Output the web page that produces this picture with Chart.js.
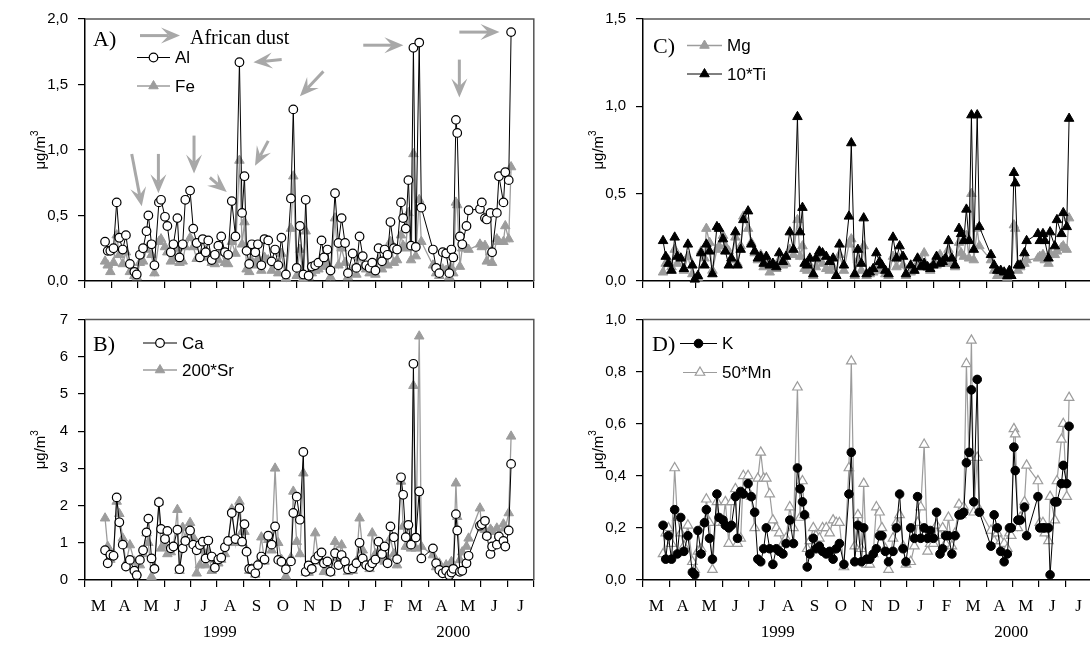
<!DOCTYPE html>
<html>
<head>
<meta charset="utf-8">
<script src="https://cdn.jsdelivr.net/npm/chart.js@4.4.1/dist/chart.umd.min.js"></script>
<style>
  html, body { margin: 0; padding: 0; background: #fff; overflow: hidden; width: 1090px; height: 650px; }
  canvas { position: absolute; }
</style>
</head>
<body>
<canvas id="chartA" width="545" height="300" style="left:0px;top:0px"></canvas>
<canvas id="chartB" width="545" height="350" style="left:0px;top:300px"></canvas>
<canvas id="chartC" width="545" height="300" style="left:558px;top:0px"></canvas>
<canvas id="chartD" width="545" height="350" style="left:558px;top:300px"></canvas>
<script>
// month axis: 0 = start of March 1999, one unit per month
const MONTHS = ['M', 'A', 'M', 'J', 'J', 'A', 'S', 'O', 'N', 'D', 'J', 'F', 'M', 'A', 'M', 'J', 'J'];
const YEARS = [{ label: '1999', at: 5.1 }, { label: '2000', at: 13.95 }];

// sampling dates (month units)
const DATES = [
  0.76, 0.86, 0.96, 1.08, 1.20, 1.30, 1.43, 1.55, 1.70, 1.87,
  1.96, 2.08, 2.20, 2.33, 2.40, 2.52, 2.63, 2.80, 2.88, 3.03,
  3.12, 3.25, 3.35, 3.50, 3.58, 3.70, 3.80, 3.98, 4.10, 4.23,
  4.35, 4.46, 4.57, 4.67, 4.80, 4.92, 5.05, 5.16, 5.30, 5.42,
  5.56, 5.70, 5.85, 5.95, 6.04, 6.12, 6.22, 6.32, 6.45, 6.55,
  6.68, 6.80, 6.94, 7.07, 7.20, 7.32, 7.44, 7.61, 7.80, 7.89,
  8.02, 8.14, 8.27, 8.36, 8.47, 8.59, 8.72, 8.84, 8.96, 9.05,
  9.18, 9.30, 9.47, 9.60, 9.72, 9.85, 9.96, 10.14, 10.28, 10.40,
  10.52, 10.65, 10.78, 10.88, 11.00, 11.12, 11.25, 11.35, 11.46, 11.57,
  11.70, 11.82, 11.97, 12.05, 12.15, 12.25, 12.35, 12.44, 12.53, 12.66,
  12.74, 13.18, 13.30, 13.42, 13.55, 13.68, 13.80, 13.88, 13.95, 14.05,
  14.10, 14.20, 14.29, 14.45, 14.53, 14.96, 15.03, 15.15, 15.22, 15.36,
  15.42, 15.60, 15.68, 15.85, 15.92, 16.05, 16.14,
];

const AL = [
  0.30, 0.23, 0.23, 0.25, 0.60, 0.33, 0.24, 0.35, 0.13, 0.07,
  0.05, 0.20, 0.25, 0.38, 0.50, 0.28, 0.12, 0.60, 0.62, 0.49,
  0.42, 0.22, 0.28, 0.48, 0.18, 0.28, 0.62, 0.69, 0.40, 0.29,
  0.18, 0.32, 0.22, 0.31, 0.16, 0.20, 0.27, 0.34, 0.22, 0.20,
  0.61, 0.34, 1.67, 0.52, 0.80, 0.23, 0.13, 0.28, 0.22, 0.28,
  0.12, 0.32, 0.31, 0.15, 0.24, 0.12, 0.33, 0.05, 0.63, 1.31,
  0.10, 0.42, 0.05, 0.62, 0.04, 0.11, 0.12, 0.14, 0.31, 0.18,
  0.24, 0.08, 0.67, 0.29, 0.48, 0.29, 0.06, 0.21, 0.10, 0.34,
  0.19, 0.12, 0.10, 0.14, 0.08, 0.25, 0.15, 0.24, 0.20, 0.45,
  0.25, 0.24, 0.60, 0.48, 0.40, 0.77, 0.27, 1.78, 0.26, 1.82,
  0.56, 0.24, 0.10, 0.06, 0.22, 0.21, 0.06, 0.24, 0.18, 1.23,
  1.13, 0.34, 0.28, 0.42, 0.54, 0.55, 0.60, 0.48, 0.47, 0.52,
  0.22, 0.52, 0.80, 0.60, 0.83, 0.77, 1.90,
];
const FE = [
  0.15, 0.12, 0.07, 0.14, 0.35, 0.20, 0.13, 0.22, 0.07, 0.04,
  0.03, 0.14, 0.15, 0.24, 0.27, 0.20, 0.06, 0.30, 0.32, 0.26,
  0.22, 0.15, 0.17, 0.25, 0.14, 0.15, 0.26, 0.33, 0.26, 0.17,
  0.19, 0.18, 0.23, 0.19, 0.14, 0.13, 0.16, 0.22, 0.14, 0.13,
  0.30, 0.21, 0.92, 0.28, 0.45, 0.09, 0.07, 0.15, 0.12, 0.17,
  0.08, 0.18, 0.16, 0.08, 0.12, 0.06, 0.21, 0.02, 0.40, 0.80,
  0.04, 0.24, 0.02, 0.38, 0.03, 0.06, 0.08, 0.09, 0.14, 0.11,
  0.13, 0.03, 0.48, 0.12, 0.25, 0.14, 0.03, 0.09, 0.05, 0.18,
  0.11, 0.09, 0.06, 0.10, 0.05, 0.16, 0.09, 0.14, 0.12, 0.30,
  0.14, 0.16, 0.35, 0.27, 0.25, 0.52, 0.16, 0.97, 0.19, 0.62,
  0.30, 0.12, 0.06, 0.04, 0.09, 0.08, 0.03, 0.10, 0.06, 0.60,
  0.58, 0.11, 0.25, 0.25, 0.24, 0.28, 0.26, 0.27, 0.15, 0.22,
  0.14, 0.32, 0.30, 0.30, 0.42, 0.32, 0.87,
];
const CA = [
  0.80, 0.45, 0.68, 0.65, 2.22, 1.55, 0.95, 0.36, 0.54, 0.25,
  0.13, 0.54, 0.80, 1.28, 1.65, 0.58, 0.30, 2.09, 1.37, 1.10,
  1.32, 0.85, 0.90, 1.35, 0.29, 0.85, 1.05, 1.33, 0.95, 0.80,
  0.94, 1.03, 0.58, 1.06, 0.63, 0.33, 0.55, 0.60, 0.88, 1.05,
  1.80, 1.10, 1.93, 1.03, 1.50, 0.76, 0.30, 0.29, 0.18, 0.40,
  0.63, 0.55, 1.19, 0.95, 1.44, 0.54, 0.49, 0.29, 0.50, 1.80,
  2.24, 1.62, 3.44, 0.22, 0.39, 0.30, 0.55, 0.65, 0.74, 0.45,
  0.50, 0.22, 0.72, 0.40, 0.67, 0.50, 0.29, 0.31, 0.45, 1.00,
  0.58, 0.40, 0.35, 0.45, 0.55, 1.03, 0.70, 0.90, 0.45, 1.44,
  1.15, 0.56, 2.76, 2.29, 1.15, 1.48, 0.95, 5.81, 1.14, 2.38,
  0.58, 0.85, 0.45, 0.27, 0.18, 0.25, 0.13, 0.20, 0.30, 1.77,
  1.33, 0.22, 0.25, 0.45, 0.65, 1.46, 1.50, 1.59, 1.18, 0.70,
  0.90, 0.95, 1.17, 1.05, 0.90, 1.33, 3.12,
];
const SR200 = [
  1.66, 0.90, 0.55, 0.70, 2.11, 1.78, 1.12, 0.45, 0.94, 0.50,
  0.20, 0.40, 0.70, 1.26, 1.00, 0.09, 0.35, 2.09, 0.85, 0.94,
  0.70, 0.75, 0.90, 1.89, 0.25, 1.41, 1.10, 1.54, 1.15, 0.18,
  0.40, 0.80, 0.40, 0.75, 0.25, 0.55, 0.45, 0.55, 0.70, 1.00,
  1.90, 1.00, 2.11, 1.30, 1.30, 0.80, 0.25, 0.30, 0.15, 0.45,
  1.15, 0.50, 1.08, 0.80, 3.00, 1.00, 0.55, 0.10, 0.60, 2.38,
  1.03, 0.70, 2.87, 0.20, 0.20, 0.30, 1.26, 0.60, 0.50, 0.22,
  0.35, 0.20, 1.03, 0.60, 0.94, 0.40, 0.22, 0.25, 0.50, 1.66,
  0.80, 0.45, 0.30, 1.26, 0.70, 0.72, 0.55, 0.50, 0.60, 1.12,
  0.70, 0.40, 2.65, 1.44, 0.90, 0.90, 0.85, 5.22, 0.85, 6.55,
  0.90, 0.67, 0.35, 0.45, 0.20, 0.40, 0.30, 0.49, 0.35, 2.60,
  1.70, 0.54, 0.75, 0.90, 1.12, 1.93, 1.39, 1.35, 1.20, 1.36,
  1.30, 1.39, 1.20, 1.50, 1.39, 1.80, 3.86,
];
const MG = [
  0.05, 0.10, 0.12, 0.08, 0.18, 0.10, 0.13, 0.06, 0.14, 0.04,
  0.01, 0.02, 0.17, 0.13, 0.30, 0.22, 0.06, 0.18, 0.20, 0.26,
  0.20, 0.17, 0.12, 0.25, 0.10, 0.20, 0.37, 0.30, 0.22, 0.16,
  0.12, 0.15, 0.08, 0.12, 0.05, 0.10, 0.07, 0.12, 0.09, 0.10,
  0.18, 0.15, 0.35, 0.14, 0.20, 0.07, 0.06, 0.09, 0.03, 0.08,
  0.12, 0.10, 0.07, 0.06, 0.08, 0.03, 0.15, 0.06, 0.21, 0.24,
  0.03, 0.12, 0.06, 0.20, 0.03, 0.04, 0.05, 0.08, 0.06, 0.07,
  0.04, 0.03, 0.14, 0.08, 0.13, 0.09, 0.03, 0.05, 0.06, 0.10,
  0.12, 0.16, 0.08, 0.06, 0.10, 0.09, 0.15, 0.12, 0.10, 0.18,
  0.10, 0.08, 0.22, 0.16, 0.14, 0.26, 0.13, 0.50, 0.12, 0.30,
  0.20, 0.12, 0.06, 0.03, 0.04, 0.03, 0.02, 0.04, 0.03, 0.32,
  0.30, 0.06, 0.08, 0.10, 0.12, 0.13, 0.14, 0.15, 0.12, 0.10,
  0.16, 0.15, 0.17, 0.19, 0.20, 0.18, 0.36,
];
const TI10 = [
  0.23, 0.14, 0.10, 0.06, 0.25, 0.14, 0.13, 0.07, 0.21, 0.09,
  0.01, 0.03, 0.16, 0.09, 0.21, 0.17, 0.04, 0.31, 0.30, 0.24,
  0.17, 0.09, 0.13, 0.28, 0.09, 0.18, 0.35, 0.40, 0.21, 0.17,
  0.13, 0.14, 0.10, 0.14, 0.09, 0.10, 0.08, 0.16, 0.11, 0.14,
  0.28, 0.18, 0.94, 0.28, 0.42, 0.10, 0.09, 0.13, 0.04, 0.13,
  0.17, 0.16, 0.14, 0.11, 0.13, 0.03, 0.21, 0.09, 0.37, 0.79,
  0.04, 0.18, 0.10, 0.36, 0.04, 0.05, 0.07, 0.16, 0.11, 0.09,
  0.06, 0.04, 0.25, 0.13, 0.20, 0.14, 0.04, 0.09, 0.06, 0.13,
  0.08, 0.10, 0.08, 0.07, 0.09, 0.14, 0.10, 0.11, 0.13, 0.23,
  0.13, 0.09, 0.30, 0.27, 0.23, 0.41, 0.23, 0.95, 0.18, 0.95,
  0.31, 0.15, 0.09, 0.06, 0.06, 0.05, 0.03, 0.06, 0.03, 0.62,
  0.56, 0.09, 0.09, 0.16, 0.23, 0.27, 0.23, 0.27, 0.23, 0.13,
  0.28, 0.20, 0.35, 0.27, 0.39, 0.31, 0.93,
];
const K = [
  0.21, 0.08, 0.17, 0.08, 0.27, 0.10, 0.24, 0.11, 0.17, 0.03,
  0.02, 0.19, 0.10, 0.22, 0.27, 0.16, 0.08, 0.33, 0.24, 0.23,
  0.21, 0.20, 0.21, 0.32, 0.16, 0.34, 0.33, 0.37, 0.32, 0.26,
  0.08, 0.07, 0.12, 0.20, 0.12, 0.06, 0.12, 0.11, 0.10, 0.14,
  0.23, 0.14, 0.43, 0.35, 0.30, 0.25, 0.05, 0.10, 0.16, 0.12,
  0.13, 0.11, 0.10, 0.11, 0.08, 0.12, 0.14, 0.06, 0.33, 0.49,
  0.07, 0.21, 0.07, 0.20, 0.08, 0.08, 0.10, 0.12, 0.17, 0.17,
  0.11, 0.07, 0.11, 0.20, 0.33, 0.12, 0.07, 0.20, 0.16, 0.32,
  0.16, 0.20, 0.16, 0.19, 0.16, 0.26, 0.10, 0.12, 0.17, 0.17,
  0.10, 0.17, 0.25, 0.25, 0.26, 0.45, 0.49, 0.73, 0.30, 0.77,
  0.26, 0.13, 0.25, 0.20, 0.11, 0.07, 0.10, 0.20, 0.20, 0.51,
  0.42, 0.23, 0.23, 0.28, 0.17, 0.32, 0.20, 0.20, 0.20, 0.20,
  0.02, 0.30, 0.30, 0.37, 0.44, 0.37, 0.59,
];
const MN50 = [
  0.10, 0.18, 0.20, 0.14, 0.43, 0.24, 0.18, 0.13, 0.21, 0.07,
  0.04, 0.11, 0.12, 0.22, 0.31, 0.22, 0.04, 0.30, 0.22, 0.22,
  0.30, 0.14, 0.30, 0.35, 0.14, 0.16, 0.40, 0.40, 0.32, 0.20,
  0.39, 0.49, 0.39, 0.39, 0.33, 0.23, 0.20, 0.18, 0.14, 0.16,
  0.28, 0.20, 0.74, 0.24, 0.38, 0.25, 0.12, 0.15, 0.20, 0.17,
  0.16, 0.20, 0.20, 0.18, 0.23, 0.22, 0.22, 0.05, 0.43, 0.84,
  0.13, 0.25, 0.12, 0.37, 0.06, 0.06, 0.10, 0.28, 0.26, 0.20,
  0.12, 0.04, 0.16, 0.22, 0.25, 0.13, 0.06, 0.07, 0.13, 0.22,
  0.28, 0.52, 0.11, 0.14, 0.14, 0.21, 0.17, 0.20, 0.14, 0.24,
  0.13, 0.18, 0.29, 0.25, 0.28, 0.83, 0.47, 0.92, 0.26, 0.47,
  0.27, 0.19, 0.15, 0.18, 0.15, 0.14, 0.12, 0.18, 0.17, 0.58,
  0.56, 0.20, 0.24, 0.30, 0.44, 0.38, 0.22, 0.22, 0.18, 0.15,
  0.32, 0.23, 0.38, 0.54, 0.60, 0.32, 0.70,
];

// "African dust" arrows in panel A: [fromMonth, fromValue, toMonth, toValue]
const DUST_ARROWS = [
  [1.77, 0.97, 2.15, 0.57],
  [2.78, 0.97, 2.78, 0.67],
  [4.13, 1.11, 4.13, 0.82],
  [4.73, 0.79, 5.37, 0.68],
  [7.45, 1.69, 6.38, 1.67],
  [6.94, 1.07, 6.44, 0.88],
  [9.03, 1.60, 8.14, 1.41],
  [10.54, 1.80, 12.06, 1.80],
  [14.18, 1.69, 14.18, 1.40],
  [14.18, 1.90, 15.70, 1.90],
];

const GRAY = '#9c9c9c';
const ARROW_GRAY = '#a8a8a8';
const SANS = "'Liberation Sans', Arial, sans-serif";
const SERIF = "'Liberation Serif', 'Times New Roman', serif";

const pts = (vals) => vals.map((v, i) => ({ x: DATES[i], y: v }));

// ── dataset looks ──────────────────────────────
const openCircle = { pointStyle: 'circle', pointRadius: 4.3, pointBackgroundColor: '#fff', pointBorderColor: '#000', pointBorderWidth: 1.2, borderColor: '#000', borderWidth: 1 };
const blackDot = { pointStyle: 'circle', pointRadius: 4.3, pointBackgroundColor: '#000', pointBorderColor: '#000', pointBorderWidth: 1, borderColor: '#000', borderWidth: 1 };
const grayTri = { pointStyle: 'triangle', pointRadius: 5.5, pointBackgroundColor: GRAY, pointBorderColor: GRAY, pointBorderWidth: 1, borderColor: GRAY, borderWidth: 1.3 };
const blackTri = { pointStyle: 'triangle', pointRadius: 5.5, pointBackgroundColor: '#000', pointBorderColor: '#000', pointBorderWidth: 1, borderColor: '#000', borderWidth: 1 };
const openTri = { pointStyle: 'triangle', pointRadius: 5.5, pointBackgroundColor: '#fff', pointBorderColor: GRAY, pointBorderWidth: 1.2, borderColor: GRAY, borderWidth: 1.2 };

const series = (label, vals, look) => Object.assign({ label, data: pts(vals), clip: false, tension: 0 }, look);

function marker(ctx, ds, x, y) {
  const r = ds.pointRadius;
  ctx.fillStyle = ds.pointBackgroundColor;
  ctx.strokeStyle = ds.pointBorderColor;
  ctx.lineWidth = ds.pointBorderWidth;
  ctx.beginPath();
  if (ds.pointStyle === 'circle') {
    ctx.arc(x, y, r, 0, Math.PI * 2);
  } else {
    ctx.moveTo(x, y - r);
    ctx.lineTo(x + 0.866 * r, y + 0.5 * r);
    ctx.lineTo(x - 0.866 * r, y + 0.5 * r);
    ctx.closePath();
  }
  ctx.fill();
  ctx.stroke();
}

function arrow(ctx, x0, y0, x1, y1) {
  const ang = Math.atan2(y1 - y0, x1 - x0);
  const ux = Math.cos(ang), uy = Math.sin(ang);
  const L = 19, W = 8;
  ctx.strokeStyle = ARROW_GRAY;
  ctx.fillStyle = ARROW_GRAY;
  ctx.lineWidth = 3;
  ctx.beginPath();
  ctx.moveTo(x0, y0);
  ctx.lineTo(x1 - ux * L * 0.6, y1 - uy * L * 0.6);
  ctx.stroke();
  ctx.beginPath();
  ctx.moveTo(x1, y1);
  ctx.lineTo(x1 - ux * L - uy * W, y1 - uy * L + ux * W);
  ctx.lineTo(x1 - ux * L * 0.6, y1 - uy * L * 0.6);
  ctx.lineTo(x1 - ux * L + uy * W, y1 - uy * L - ux * W);
  ctx.closePath();
  ctx.fill();
}

// ── frame, panel tags, legends, unit, years, arrows ──────────────
const decor = {
  id: 'decor',
  afterDraw(chart, args, o) {
    const { ctx, chartArea: a, scales } = chart;
    ctx.save();

    ctx.strokeStyle = '#555';
    ctx.lineWidth = 1.5;
    ctx.beginPath();
    ctx.moveTo(a.left, a.top);
    ctx.lineTo(a.right, a.top);
    ctx.lineTo(a.right, a.bottom);
    ctx.stroke();

    if (o.arrows) {
      o.arrows.forEach(([t0, v0, t1, v1]) => {
        arrow(ctx, scales.x.getPixelForValue(t0), scales.y.getPixelForValue(v0),
          scales.x.getPixelForValue(t1), scales.y.getPixelForValue(v1));
      });
    }
    if (o.dustKey) {
      const k = o.dustKey;
      arrow(ctx, a.left + k.x0, a.top + k.y, a.left + k.x1, a.top + k.y);
      ctx.fillStyle = '#000';
      ctx.font = `20px ${SERIF}`;
      ctx.textAlign = 'left';
      ctx.textBaseline = 'middle';
      ctx.fillText('African dust', a.left + k.tx, a.top + k.ty);
    }

    ctx.fillStyle = '#000';
    ctx.font = `22px ${SERIF}`;
    ctx.textAlign = 'left';
    ctx.textBaseline = 'middle';
    ctx.fillText(o.tag, a.left + o.tagX, a.top + o.tagY);

    o.legend.forEach((it) => {
      const ds = chart.data.datasets[it.ds];
      const y = a.top + it.y;
      ctx.strokeStyle = ds.borderColor;
      ctx.lineWidth = ds.borderWidth;
      ctx.beginPath();
      ctx.moveTo(a.left + it.x0, y);
      ctx.lineTo(a.left + it.x1, y);
      ctx.stroke();
      marker(ctx, ds, a.left + (it.x0 + it.x1) / 2, y);
      ctx.fillStyle = '#000';
      ctx.font = `17px ${SANS}`;
      ctx.textAlign = 'left';
      ctx.textBaseline = 'middle';
      ctx.fillText(ds.label, a.left + it.x1 + 5, y + 1);
    });

    // y unit: µg/m³, rotated
    const cy = (a.top + a.bottom) / 2;
    ctx.translate(a.left - 45, cy);
    ctx.rotate(-Math.PI / 2);
    ctx.font = `15px ${SANS}`;
    const w1 = ctx.measureText('μg/m').width;
    ctx.font = `10px ${SANS}`;
    const w2 = ctx.measureText('3').width;
    ctx.textAlign = 'left';
    ctx.textBaseline = 'alphabetic';
    ctx.font = `15px ${SANS}`;
    ctx.fillText('μg/m', -(w1 + w2) / 2, 5);
    ctx.font = `10px ${SANS}`;
    ctx.fillText('3', -(w1 + w2) / 2 + w1, -2);
    ctx.setTransform(1, 0, 0, 1, 0, 0);

    if (o.years) {
      ctx.fillStyle = '#000';
      ctx.font = `17px ${SERIF}`;
      ctx.textAlign = 'center';
      ctx.textBaseline = 'middle';
      YEARS.forEach((yr) => ctx.fillText(yr.label, scales.x.getPixelForValue(yr.at), a.bottom + 53));
    }
    ctx.restore();
  },
};

function makePanel(id, cfg) {
  new Chart(document.getElementById(id), {
    type: 'line',
    data: { datasets: cfg.datasets },
    options: {
      responsive: false,
      animation: false,
      events: [],
      layout: { padding: { top: cfg.top, right: 11.2, bottom: 0, left: 0 } },
      plugins: { legend: { display: false }, tooltip: { enabled: false }, decor: cfg.decor },
      scales: {
        x: {
          type: 'linear',
          min: 0,
          max: 17,
          afterFit: (s) => { s.height = cfg.xHeight; },
          border: { color: '#000', width: 1.5 },
          grid: {
            drawOnChartArea: false,
            tickLength: 7,
            lineWidth: 1.2,
            color: (c) => (c.tick && Math.abs(c.tick.value % 1) < 1e-6 ? '#000' : 'rgba(0,0,0,0)'),
          },
          ticks: {
            display: cfg.months,
            stepSize: 0.5,
            autoSkip: false,
            maxRotation: 0,
            padding: 9,
            color: '#000',
            font: { family: SERIF, size: 17 },
            callback: (v) => {
              const i = Math.round(v * 2);
              return i % 2 === 1 ? MONTHS[(i - 1) / 2] : '';
            },
          },
        },
        y: {
          min: 0,
          max: cfg.yMax,
          afterFit: (s) => { s.width = 85; },
          border: { color: '#000', width: 1.5 },
          grid: { drawOnChartArea: false, tickLength: 7, lineWidth: 1.2, color: '#000' },
          ticks: {
            stepSize: cfg.yStep,
            padding: 10,
            color: '#000',
            font: { family: SANS, size: 15 },
            callback: cfg.yFmt,
          },
        },
      },
    },
    plugins: [decor],
  });
}

const comma1 = (v) => v.toFixed(1).replace('.', ',');

makePanel('chartA', {
  top: 16.7, xHeight: 18.3, months: false, yMax: 2, yStep: 0.5, yFmt: comma1,
  datasets: [series('Al', AL, openCircle), series('Fe', FE, grayTri)],
  decor: {
    tag: 'A)', tagX: 8, tagY: 21,
    dustKey: { x0: 55, x1: 95, y: 16.6, tx: 105, ty: 20 },
    arrows: DUST_ARROWS,
    legend: [{ ds: 0, x0: 52, x1: 85, y: 38.5 }, { ds: 1, x0: 52, x1: 85, y: 67 }],
  },
});

makePanel('chartB', {
  top: 19.5, xHeight: 70, months: true, yMax: 7, yStep: 1, yFmt: (v) => String(v),
  datasets: [series('Ca', CA, openCircle), series('200*Sr', SR200, grayTri)],
  decor: {
    tag: 'B)', tagX: 8, tagY: 26, years: true,
    legend: [{ ds: 0, x0: 58, x1: 92, y: 23.5 }, { ds: 1, x0: 58, x1: 92, y: 50.5 }],
  },
});

makePanel('chartC', {
  top: 16.7, xHeight: 18.3, months: false, yMax: 1.5, yStep: 0.5, yFmt: comma1,
  datasets: [series('10*Ti', TI10, blackTri), series('Mg', MG, grayTri)],
  decor: {
    tag: 'C)', tagX: 10, tagY: 28,
    legend: [{ ds: 1, x0: 44, x1: 79, y: 26.5 }, { ds: 0, x0: 44, x1: 79, y: 55 }],
  },
});

makePanel('chartD', {
  top: 19.5, xHeight: 70, months: true, yMax: 1, yStep: 0.2, yFmt: comma1,
  datasets: [series('K', K, blackDot), series('50*Mn', MN50, openTri)],
  decor: {
    tag: 'D)', tagX: 9, tagY: 26, years: true,
    legend: [{ ds: 0, x0: 37, x1: 74, y: 24 }, { ds: 1, x0: 40, x1: 74, y: 53 }],
  },
});
</script>
</body>
</html>
